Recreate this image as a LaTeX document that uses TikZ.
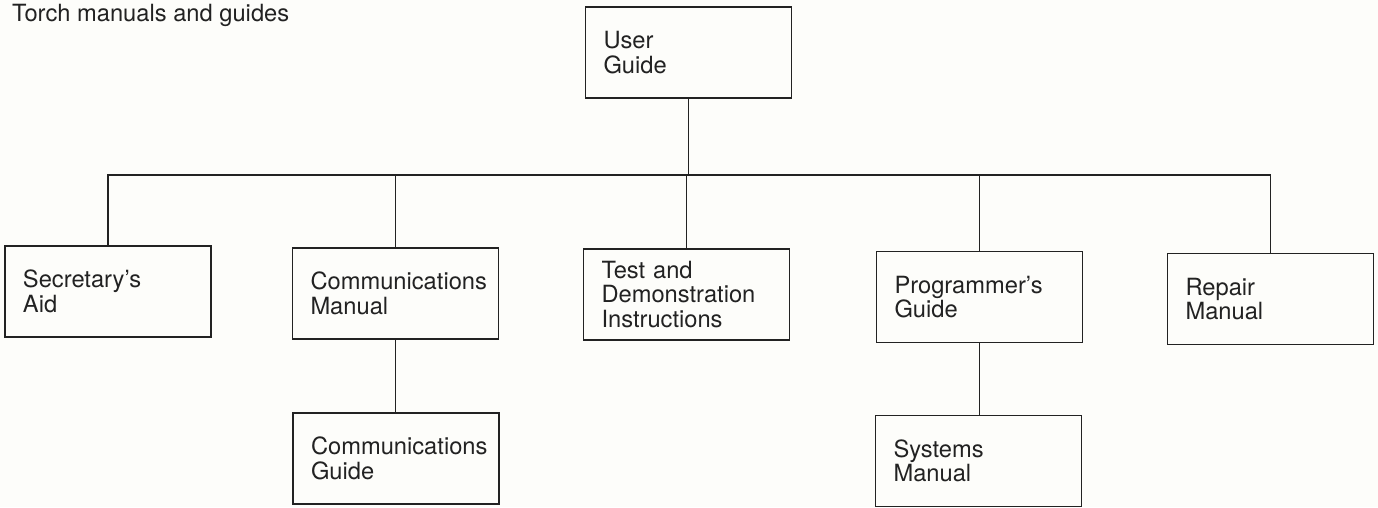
\documentclass[tikz,border=0pt]{standalone}
\usepackage{fontspec}
\setmainfont{TeX Gyre Heros}
\definecolor{ink}{HTML}{222222}
\definecolor{paper}{HTML}{FDFDFA}
\begin{document}
\begin{tikzpicture}[x=1pt,y=-1pt,
  docbox/.style={draw=ink, line width=1.9pt, rectangle, inner xsep=18pt,
    text width=170pt, align=left, minimum height=91pt, text=ink,
    font=\fontsize{23.7}{24.5}\selectfont},
  link/.style={draw=ink, line width=1.9pt}]
  % page
  \fill[paper] (0,0) rectangle (1378,507);
  \useasboundingbox (0,0) rectangle (1378,507);

  % heading
  \node[anchor=base west, inner sep=0pt, text=ink,
        font=\fontsize{23.7}{24.5}\selectfont] (title) at (12,21)
        {Torch manuals and guides};

  % manuals
  \node[docbox] (user) at (688.5,52.5) {User\\Guide};
  \node[docbox] (sec)  at (108,291.5)  {Secretary’s\\Aid};
  \node[docbox] (cman) at (395.5,293.5) {Communications\\Manual};
  \node[docbox] (test) at (686.5,294.5) {Test and\\Demonstration\\Instructions};
  \node[docbox] (prog) at (979.5,297)  {Programmer’s\\Guide};
  \node[docbox] (rep)  at (1270.5,299) {Repair\\Manual};
  \node[docbox] (cgui) at (396,458.5)  {Communications\\Guide};
  \node[docbox] (sys)  at (978.5,461)  {Systems\\Manual};

  % distribution line
  \coordinate (bus) at (0,175);
  \draw[link] (sec.north) -- (sec.north |- bus) -- (rep.north |- bus) -- (rep.north);
  \draw[link] (user.south) -- (user.south |- bus);
  \draw[link] (cman.north) -- (cman.north |- bus);
  \draw[link] (test.north) -- (test.north |- bus);
  \draw[link] (prog.north) -- (prog.north |- bus);

  % second level
  \draw[link] (cman.south) -- (cman.south |- cgui.north);
  \draw[link] (prog.south) -- (prog.south |- sys.north);
\end{tikzpicture}
\end{document}
